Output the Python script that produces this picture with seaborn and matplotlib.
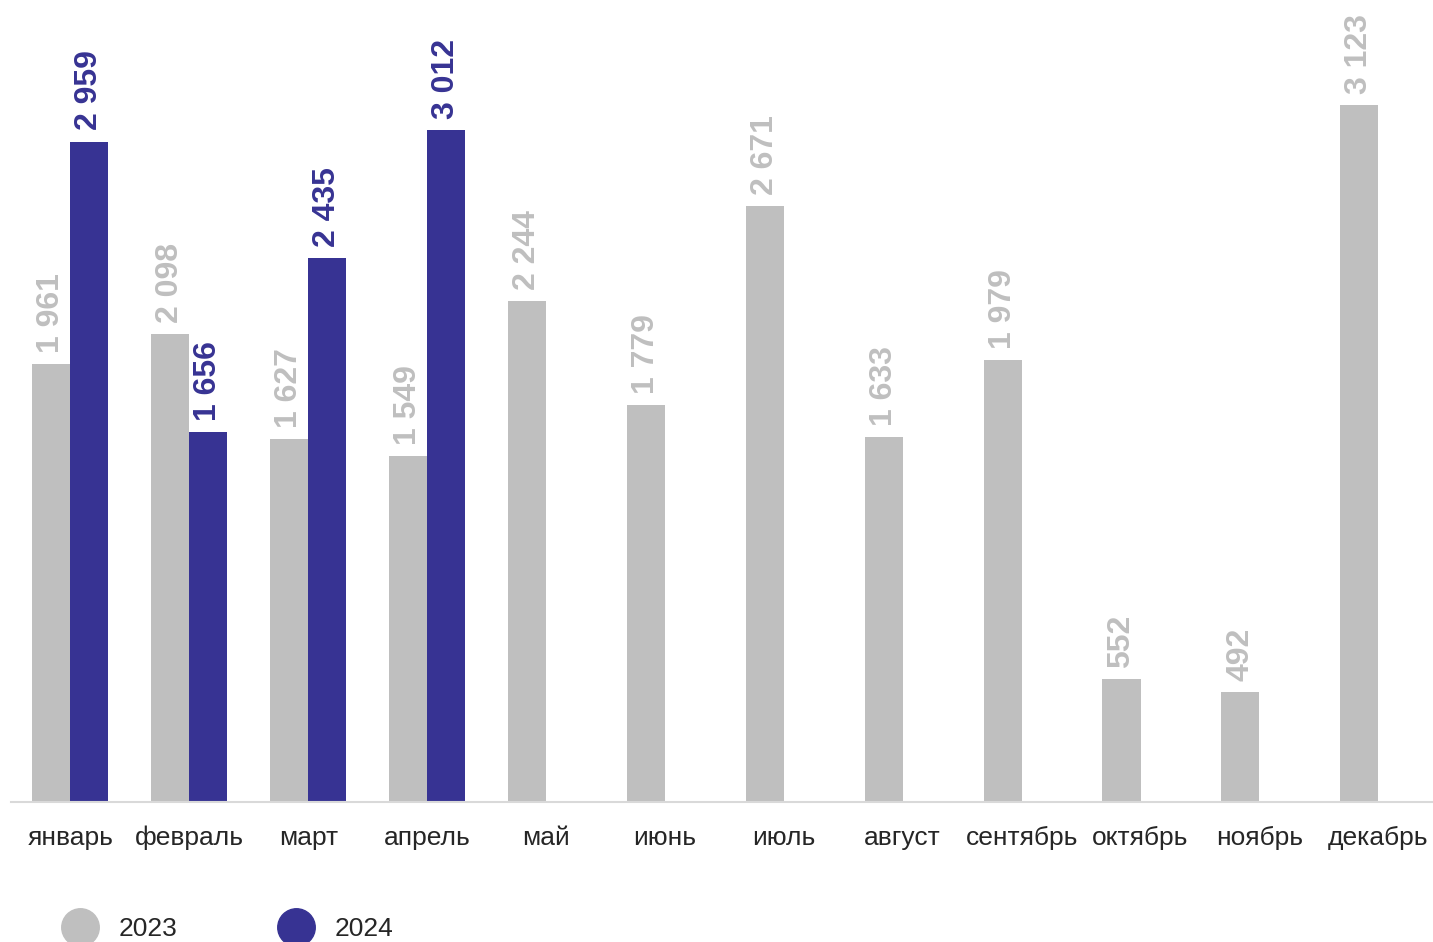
import pandas as pd
import numpy as np
import matplotlib.pyplot as plt
import seaborn as sns
from matplotlib.lines import Line2D

months = ['январь', 'февраль', 'март', 'апрель', 'май', 'июнь',
          'июль', 'август', 'сентябрь', 'октябрь', 'ноябрь', 'декабрь']
values_2023 = [1961, 2098, 1627, 1549, 2244, 1779, 2671, 1633, 1979, 552, 492, 3123]
values_2024 = [2959, 1656, 2435, 3012, np.nan, np.nan, np.nan, np.nan, np.nan, np.nan, np.nan, np.nan]
years = ['2023', '2024']
colors = ['#bfbfbf', '#373393']

df = pd.DataFrame({
    'month': months * 2,
    'year': [years[0]] * 12 + [years[1]] * 12,
    'value': values_2023 + values_2024,
})

sns.set_style('white')
plt.rcParams['font.family'] = ['Liberation Sans', 'DejaVu Sans']

fig = plt.figure(figsize=(14.33, 9.42), dpi=100)
ax = fig.add_axes([11 / 1433, 140 / 942, 1 - 11 / 1433, 802 / 942])

sns.barplot(data=df, x='month', y='value', hue='year', order=months, hue_order=years,
            palette=colors, width=0.64, errorbar=None, legend=False, ax=ax,
            saturation=1, linewidth=0)

# value labels above bars, rotated
for cont, col in zip(ax.containers, colors):
    labels = []
    for b in cont:
        h = b.get_height()
        labels.append('' if np.isnan(h) else f"{int(round(h)):,}".replace(',', ' '))
    ax.bar_label(cont, labels=labels, rotation=90, padding=8, color=col,
                 fontsize=23, fontweight='bold')

ax.set_xlim(-0.5, 11.46)
ax.set_ylim(0, 3593)
ax.set_yticks([])
ax.set_xlabel('')
ax.set_ylabel('')
for s in ['top', 'right', 'left']:
    ax.spines[s].set_visible(False)
ax.spines['bottom'].set_color('#d9d9d9')
ax.spines['bottom'].set_linewidth(1.5)
ax.tick_params(axis='x', length=0, pad=17, labelsize=19, labelcolor='#262626')

handles = [Line2D([], [], marker='o', linestyle='', markersize=27,
                  markerfacecolor=c, markeredgecolor=c) for c in colors]
fig.legend(handles, years, loc='center left', bbox_to_anchor=(54 / 1433, 13 / 942),
           ncol=2, frameon=False, fontsize=19, handletextpad=0.45,
           columnspacing=3.5, borderaxespad=0, borderpad=0, labelcolor='#262626')

fig.savefig('out.png', dpi=100)
